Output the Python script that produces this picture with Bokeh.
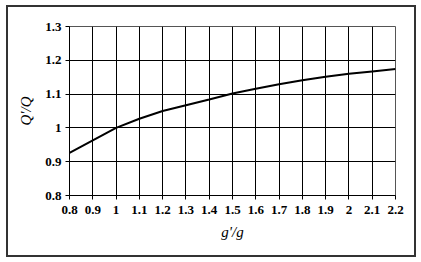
from bokeh.plotting import figure
from bokeh.models import Range1d, FixedTicker
from bokeh.embed import file_html
from bokeh.resources import INLINE

# data
g_ratio = [0.8, 0.9, 1.0, 1.1, 1.2, 1.3, 1.4, 1.5, 1.6, 1.7, 1.8, 1.9, 2.0, 2.1, 2.2]
q_ratio = [0.926, 0.963, 1.0, 1.027, 1.050, 1.067, 1.084, 1.102, 1.116, 1.129, 1.141, 1.151, 1.160, 1.167, 1.174]

x_ticks = [0.8, 0.9, 1.0, 1.1, 1.2, 1.3, 1.4, 1.5, 1.6, 1.7, 1.8, 1.9, 2.0, 2.1, 2.2]
x_tick_labels = ["0.8", "0.9", "1", "1.1", "1.2", "1.3", "1.4", "1.5", "1.6", "1.7", "1.8", "1.9", "2", "2.1", "2.2"]
y_ticks = [0.8, 0.9, 1.0, 1.1, 1.2, 1.3]
y_tick_labels = ["0.8", "0.9", "1", "1.1", "1.2", "1.3"]

SERIF = "'Liberation Serif', 'Times New Roman', serif"

p = figure(width=406, height=248, output_backend="svg", toolbar_location=None,
           x_range=Range1d(0.8, 2.2), y_range=Range1d(0.8, 1.3),
           min_border_left=61, min_border_right=23, min_border_top=19, min_border_bottom=64,
           background_fill_color="white", border_fill_color="white")
p.styles = {"border": "2px solid #333333", "margin-left": "6px", "margin-top": "5px",
            "box-sizing": "content-box"}

p.line(g_ratio, q_ratio, line_color="black", line_width=2)

for ax, ticks, labels in ((p.xaxis[0], x_ticks, x_tick_labels), (p.yaxis[0], y_ticks, y_tick_labels)):
    ax.ticker = FixedTicker(ticks=ticks)
    ax.major_label_overrides = {t: l for t, l in zip(ticks, labels)}
    ax.minor_tick_line_color = None
    ax.major_tick_in = 0
    ax.major_tick_out = 4
    ax.axis_line_color = "black"
    ax.major_tick_line_color = "black"
    ax.major_label_text_font = SERIF
    ax.major_label_text_font_style = "bold"
    ax.major_label_text_font_size = "13px"
    ax.major_label_text_color = "black"
    ax.axis_label_text_font = SERIF
    ax.axis_label_text_font_style = "italic"
    ax.axis_label_text_font_size = "15px"
    ax.axis_label_text_color = "black"

p.xaxis.axis_label = "g'/g"
p.yaxis.axis_label = "Q'/Q"
p.xaxis.major_label_standoff = 6
p.yaxis.major_label_standoff = 4
p.xaxis.axis_label_standoff = 7
p.yaxis.axis_label_standoff = 8

p.xgrid.ticker = FixedTicker(ticks=x_ticks)
p.ygrid.ticker = FixedTicker(ticks=y_ticks)
p.grid.grid_line_color = "black"
p.grid.grid_line_width = 1
p.outline_line_color = "#555555"

open("out.html", "w").write(file_html(p, INLINE))
